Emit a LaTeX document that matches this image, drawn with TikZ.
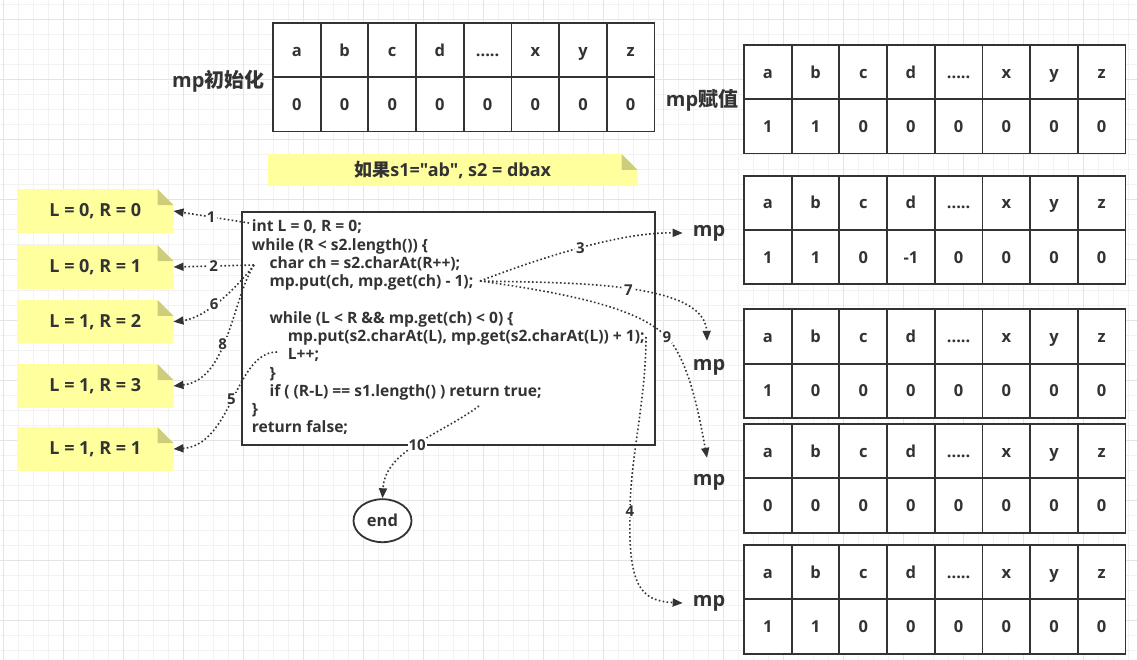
\documentclass[tikz,border=0pt]{standalone}
\usepackage{fontspec}
\setmainfont{Open Sans}[Ligatures=TeXOff]
\newfontfamily\cjk{Noto Sans CJK SC}
\usetikzlibrary{arrows.meta,shapes.geometric,calc}
\pgfdeclarelayer{grid}
\pgfdeclarelayer{bg}
\pgfsetlayers{grid,bg,main}
\definecolor{ink}{HTML}{333333}
\definecolor{gridminor}{HTML}{F2F2F2}
\definecolor{gridmajor}{HTML}{E4E4E4}
\definecolor{notefill}{HTML}{FFFF9E}
\definecolor{foldfill}{HTML}{CDCD7B}
\newcommand\fivedot{.{}.{}.{}.{}.}
\tikzset{
  celltext/.style={font=\fontsize{16.5}{19}\selectfont\bfseries, text=ink, inner sep=0pt, text height=11.8pt, text depth=0pt},
  tabline/.style={draw=ink, line width=1.8pt},
  codeline/.style={font=\fontsize{15.6}{18}\selectfont\bfseries, text=ink, inner sep=0pt, anchor=base west},
  notetext/.style={font=\fontsize{18}{21}\selectfont\bfseries, text=ink, inner sep=0pt},
  biglabel/.style={font=\fontsize{20}{24}\selectfont\bfseries, text=ink, inner sep=0pt},
  flow/.style={draw=ink, line width=1.6pt, dash pattern=on 1.6pt off 2.4pt, -{Triangle[length=10pt,width=8pt]}},
  lbl/.style={font=\fontsize{15}{17}\selectfont\bfseries, text=ink, fill=white, inner sep=1pt},
}
\newcommand\mptab[5]{%
  \fill[white] (#2,#3) rectangle ++(381.5,108.6);
  \foreach \v [count=\k from 0] in {#4} {\node[celltext] (#1h\k) at ({#2+23.85+47.69*\k},{#3+27.15}) {\v};}
  \foreach \v [count=\k from 0] in {#5} {\node[celltext] (#1v\k) at ({#2+23.85+47.69*\k},{#3+81.45}) {\v};}
  \draw[tabline] (#2,#3) rectangle ++(381.5,108.6);
  \draw[tabline] (#2,{#3+54.3}) -- ++(381.5,0);
  \foreach \k in {1,2,3,4,5,6,7} {\draw[tabline] ({#2+47.69*\k},#3) -- ++(0,108.6);}
}
\newcommand\yellownote[6]{%
  \node[notetext, minimum width=#4pt, minimum height=#5pt] (#1) at (#2,#3) {#6};
  \begin{pgfonlayer}{bg}
  \fill[notefill] (#1.south west) -- (#1.north west) -- ([xshift=-16pt]#1.north east) -- ([yshift=-16pt]#1.north east) -- (#1.south east) -- cycle;
  \fill[foldfill] ([xshift=-16pt]#1.north east) -- ([xshift=-16pt,yshift=-16pt]#1.north east) -- ([yshift=-16pt]#1.north east) -- cycle;
  \end{pgfonlayer}
}
\begin{document}
\begin{tikzpicture}[x=1pt,y=-1pt]
\useasboundingbox (0,0) rectangle (1137,660);
\begin{pgfonlayer}{grid}
  \fill[white] (0,0) rectangle (1137,660);
  \foreach \i in {0,...,75} {\draw[gridminor, line width=1pt] ({3.3+15*\i},0) -- ({3.3+15*\i},660);}
  \foreach \j in {0,...,43} {\draw[gridminor, line width=1pt] (0,{5+15*\j}) -- (1137,{5+15*\j});}
  \foreach \i in {0,...,18} {\draw[gridmajor, line width=1pt] ({3.3+60*\i},0) -- ({3.3+60*\i},660);}
  \foreach \j in {0,...,10} {\draw[gridmajor, line width=1pt] (0,{20+60*\j}) -- (1137,{20+60*\j});}
\end{pgfonlayer}

% tables
\mptab{tI}{273}{23}{a,b,c,d,\fivedot,x,y,z}{0,0,0,0,0,0,0,0}
\mptab{tA}{744}{45}{a,b,c,d,\fivedot,x,y,z}{1,1,0,0,0,0,0,0}
\mptab{tB}{744}{175.7}{a,b,c,d,\fivedot,x,y,z}{1,1,0,-1,0,0,0,0}
\mptab{tC}{744}{309.3}{a,b,c,d,\fivedot,x,y,z}{1,0,0,0,0,0,0,0}
\mptab{tD}{744}{424}{a,b,c,d,\fivedot,x,y,z}{0,0,0,0,0,0,0,0}
\mptab{tE}{744}{545}{a,b,c,d,\fivedot,x,y,z}{1,1,0,0,0,0,0,0}

% labels
\node[biglabel] (mpinit) at (218.3,81) {mp{\cjk 初始化}};
\node[biglabel] (mpset) at (702,100) {mp{\cjk 赋值}};
\node[biglabel] (mp2) at (709,233) {mp};
\node[biglabel] (mp3) at (709,367) {mp};
\node[biglabel] (mp4) at (709,482) {mp};
\node[biglabel] (mp5) at (709,603) {mp};

% notes
\yellownote{ntop}{452.8}{169.9}{369}{31.7}{{\cjk 如果}s1="ab", s2 = dbax}
\yellownote{n1}{95.3}{211}{156}{43.4}{L = 0, R = 0}
\yellownote{n2}{95.3}{267}{156}{43.4}{L = 0, R = 1}
\yellownote{n3}{95.3}{321.7}{156}{43.4}{L = 1, R = 2}
\yellownote{n4}{95.3}{386}{156}{43.4}{L = 1, R = 3}
\yellownote{n5}{95.3}{449}{156}{43.4}{L = 1, R = 1}

% code box
\node[draw=ink, line width=1.8pt, fill=white, minimum width=413.3pt, minimum height=233pt, inner sep=0pt, anchor=north west] (code) at (241,211) {};
\node[codeline] (c0) at (251.7,231.8) {int L = 0, R = 0;};
\node[codeline] (c1) at (251.7,250.1) {while (R < s2.length()) \{};
\node[codeline] (c2) at (269.3,268.3) {char ch = s2.charAt(R++);};
\node[codeline] (c3) at (269.3,286.6) {mp.put(ch, mp.get(ch) - 1);};
\node[codeline] (c5) at (269.3,323.2) {while (L < R \&\& mp.get(ch) < 0) \{};
\node[codeline] (c6) at (287.7,341.4) {mp.put(s2.charAt(L), mp.get(s2.charAt(L)) + 1);};
\node[codeline] (c7) at (287.7,359.7) {L++;};
\node[codeline] (c8) at (269.3,378.0) {\}};
\node[codeline] (c9) at (269.3,396.2) {if ( (R-L) == s1.length() ) return true;};
\node[codeline] (c10) at (251.7,414.5) {\}};
\node[codeline] (c11) at (251.7,432.8) {return false;};

% end
\node[draw=ink, line width=1.8pt, fill=white, ellipse, minimum width=58pt, minimum height=43pt, inner sep=0pt, font=\fontsize{16.5}{19}\selectfont\bfseries, text=ink] (endnode) at (382.5,520.7) {end};

% connectors
\coordinate (s1) at (249,223);
\coordinate (s2) at (254,265);
\coordinate (s3) at (480,281);
\coordinate (s4) at (646,337);
\coordinate (s5) at (277,352);
\coordinate (s10) at (479,406);

\draw[flow] (s1) -- node[lbl]{1} (n1.east);
\draw[flow] (s2) -- node[lbl]{2} (n2.east);
\draw[flow] (s2) .. controls (235,290) and (205,318) .. node[lbl,pos=0.55]{6} (n3.east);
\draw[flow] (s2) .. controls (232,300) and (228,380) .. node[lbl,pos=0.55]{8} (n4.east);
\draw[flow] (s5) .. controls (235,352) and (232,445) .. node[lbl,pos=0.5]{5} (n5.east);
\draw[flow] (s3) .. controls (540,258) and (620,232) .. node[lbl,pos=0.5]{3} ($(mp2.west)+(-10,0)$);
\draw[flow] (s3) .. controls (560,283) and (705,280) .. node[lbl,pos=0.52]{7} ($(mp3.north)+(-2,-18)$);
\draw[flow] (s3) .. controls (580,295) and (640,310) .. (667,337) node[lbl]{9} .. controls (690,362) and (700,420) .. ($(mp4.north)+(-2,-16)$);
\draw[flow] (s4) .. controls (646,400) and (630,460) .. (630,511) node[lbl]{4} .. controls (628,585) and (640,601) .. ($(mp5.west)+(-10,0)$);
\draw[flow] (s10) .. controls (440,435) and (385,450) .. node[lbl,pos=0.5]{10} (endnode.north);
\end{tikzpicture}
\end{document}
